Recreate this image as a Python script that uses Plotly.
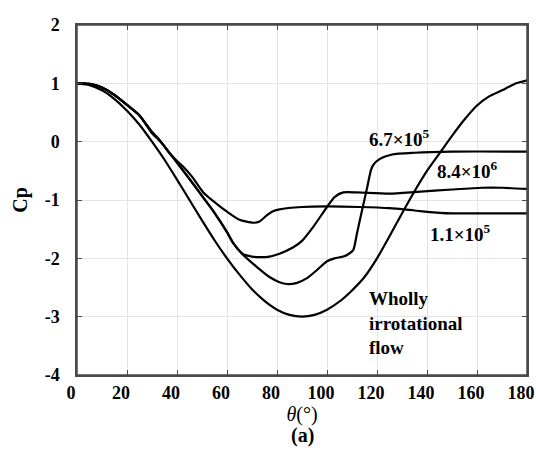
import plotly.graph_objects as go

# Wholly irrotational (potential) flow
theta_pot = [0, 5, 10, 15, 20, 25, 30, 35, 40, 45, 50, 55, 60, 65, 70, 75, 80, 85, 90,
             95, 100, 105, 110, 115, 120, 125, 130, 135, 140, 145, 150, 155, 160, 165,
             170, 175, 180]
cp_pot = [1.0, 0.97, 0.88, 0.73, 0.53, 0.29, 0.0, -0.31, -0.65, -1.0, -1.35, -1.69, -2.0,
          -2.28, -2.53, -2.73, -2.88, -2.97, -3.0, -2.97, -2.88, -2.74, -2.55, -2.32, -2.0,
          -1.62, -1.23, -0.85, -0.5, -0.2, 0.1, 0.38, 0.62, 0.78, 0.88, 0.99, 1.05]

# Re = 1.1e5 (subcritical)
theta_sub = [0, 5, 10, 15, 20, 25, 30, 33, 37, 40, 42.5, 46, 50.5, 56, 60, 65, 70.5, 73,
             76, 78, 81, 90, 100, 113, 125, 135, 145, 150, 165, 180]
cp_sub = [1.0, 0.99, 0.93, 0.8, 0.63, 0.45, 0.17, 0.03, -0.2, -0.33, -0.43, -0.6, -0.87,
          -1.07, -1.2, -1.34, -1.39, -1.37, -1.26, -1.2, -1.16, -1.12, -1.11, -1.12, -1.14,
          -1.18, -1.22, -1.23, -1.23, -1.23]

# Re = 8.4e6 (transcritical)
theta_tr = [0, 5, 10, 15, 20, 25, 30, 33, 35, 40, 45, 50, 55, 60, 62.5, 66.5, 70, 73, 77,
            81, 86.5, 90, 94.5, 100, 103, 106.5, 112, 125, 136, 150, 162, 170, 180]
cp_tr = [1.0, 0.99, 0.93, 0.8, 0.63, 0.45, 0.15, 0.02, -0.08, -0.36, -0.64, -0.93, -1.22,
         -1.55, -1.74, -1.93, -1.97, -1.98, -1.97, -1.92, -1.81, -1.7, -1.46, -1.12, -0.95,
         -0.87, -0.87, -0.89, -0.86, -0.82, -0.79, -0.79, -0.81]

# Re = 6.7e5 (supercritical)
theta_sup = [0, 5, 10, 15, 20, 25, 30, 33, 35, 40, 45, 50, 55, 60, 62.5, 66, 72, 77, 81,
             84, 88, 92, 96, 100, 103, 106.5, 108.5, 110.5, 112, 114, 116, 117.5, 118.5,
             121, 126, 135, 150, 180]
cp_sup = [1.0, 0.99, 0.93, 0.8, 0.63, 0.45, 0.15, 0.02, -0.08, -0.36, -0.64, -0.93, -1.22,
          -1.55, -1.74, -1.92, -2.15, -2.32, -2.41, -2.44, -2.42, -2.34, -2.2, -2.05, -2.0,
          -1.97, -1.93, -1.86, -1.57, -1.18, -0.8, -0.5, -0.4, -0.3, -0.22, -0.19, -0.17,
          -0.17]

labels = ["6.7×10<sup>5</sup>", "8.4×10<sup>6</sup>", "1.1×10<sup>5</sup>",
          "Wholly<br>irrotational<br>flow"]
label_x = [116, 143.2, 140.5, 115.9]
label_y = [0.07, -0.48, -1.56, -3.1]

x_ticks = [0, 20, 40, 60, 80, 100, 120, 140, 160, 180]
y_ticks = [-4, -3, -2, -1, 0, 1, 2]
y_ticktext = ["-4", "-3", "-2", "-1", "0", "1", "2"]

FONT = "Liberation Serif"
AXIS_COLOR = "#4a4a4a"

fig = go.Figure()
for xs, ys in [(theta_pot, cp_pot), (theta_sub, cp_sub), (theta_tr, cp_tr), (theta_sup, cp_sup)]:
    fig.add_trace(go.Scatter(x=xs, y=ys, mode="lines",
                             line=dict(color="black", width=2.2, shape="spline", smoothing=0.6),
                             showlegend=False, hoverinfo="skip", cliponaxis=False))

for t, lx, ly in zip(labels, label_x, label_y):
    fig.add_annotation(x=lx, y=ly, text=t, showarrow=False, xanchor="left", yanchor="middle",
                       align="left", font=dict(family=FONT, size=19, color="black", weight="bold"))

fig.add_annotation(xref="paper", yref="paper", x=0.5, y=-0.135, text="(a)", showarrow=False,
                   yanchor="top", font=dict(family=FONT, size=20, color="black", weight="bold"))

# plot frame
fig.add_shape(type="rect", xref="paper", yref="paper", x0=0, y0=0, x1=1, y1=1,
              line=dict(color=AXIS_COLOR, width=1.5), layer="above")

axis_common = dict(showline=True, linecolor=AXIS_COLOR, linewidth=1.5, mirror="allticks",
                   ticks="inside", ticklen=5, tickcolor=AXIS_COLOR, tickwidth=1.2,
                   showgrid=True, gridcolor="#e3e3e3", gridwidth=1, zeroline=False,
                   automargin=False, layer="above traces",
                   tickfont=dict(family=FONT, size=18, color="black", weight="bold"))

fig.update_xaxes(range=[0, 180], tickvals=x_ticks, ticklabelstandoff=1, ticklabelshift=-6,
                 title=dict(text="<i>θ</i>(°)", font=dict(family=FONT, size=20, color="black"), standoff=0),
                 **axis_common)
fig.update_yaxes(range=[-4, 2], tickvals=y_ticks, ticktext=y_ticktext, ticklabelstandoff=12,
                 title=dict(text="Cp", font=dict(family=FONT, size=20, color="black", weight="bold"), standoff=12),
                 **axis_common)

fig.update_layout(width=536, height=469, margin=dict(l=77, r=9, t=25, b=94),
                  plot_bgcolor="white", paper_bgcolor="white")

fig.write_html("out.html")
